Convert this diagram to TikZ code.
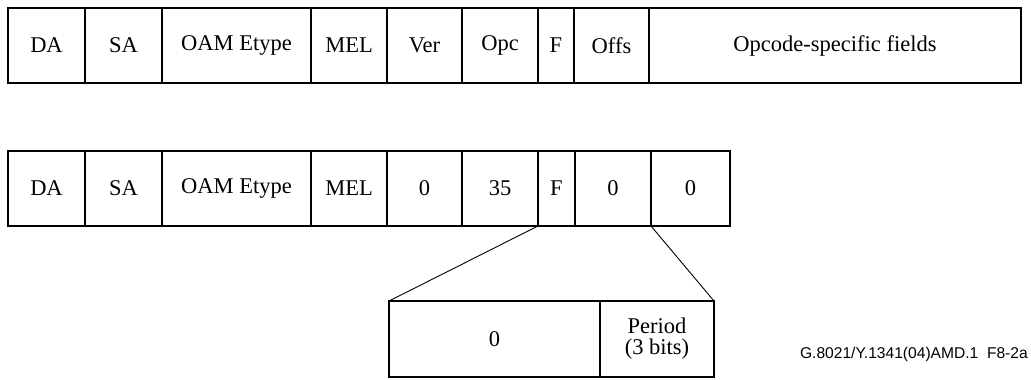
\documentclass[tikz,border=0pt]{standalone}
\usepackage{fontspec}
\setmainfont{Liberation Serif}
\newfontfamily\capfont{Liberation Sans}
\begin{document}
\begin{tikzpicture}[x=1pt,y=-1pt,
  field/.style={draw=black, line width=1.6pt, inner sep=0pt, outer sep=0pt,
    font=\fontsize{22.5}{21}\selectfont, align=center},
  zoomline/.style={draw=black, line width=0.9pt}]
\useasboundingbox (0,0) rectangle (1031,380);
% top row: edges 8,85,162,311,387,462,538,574,649,1021 ; y 8..83
\foreach \a/\b/\t/\n in {8/85/DA/tDA, 85/162/SA/tSA, 162/311/OAM Etype/tOAM, 311/387/MEL/tMEL,
  387/462/Ver/tVer, 462/538/Opc/tOpc, 538/574/F/tF, 574/649/Offs/tOffs,
  649/1021/Opcode-specific fields/tOps}
  \node[field, minimum width={\b-\a}, minimum height=75] (\n) at ({(\a+\b)/2},45.5) {\t};
% bottom row: y 151..226
\foreach \a/\b/\t/\n in {8/85/DA/bDA, 85/162/SA/bSA, 162/311/OAM Etype/bOAM, 311/387/MEL/bMEL,
  387/462/0/bVer, 462/538/35/bOpc, 538/575/F/bF, 575/651/0/bOffs, 651/730/0/bLast}
  \node[field, minimum width={\b-\a}, minimum height=75] (\n) at ({(\a+\b)/2},188.5) {\t};
% expanded flags
\node[field, minimum width=211, minimum height=76] (zero) at (494.5,339) {0};
\node[field, minimum width=114, minimum height=76] (period) at (657,339) {Period\\(3 bits)};
\draw[zoomline] (bF.south west) -- (zero.north west);
\draw[zoomline] (bOffs.south east) -- (period.north east);
\node[anchor=base east, inner sep=0pt, font=\capfont\fontsize{15.6}{18}\selectfont] (cap) at (1028,358) {G.8021/Y.1341(04)AMD.1\ \ F8-2a};
\end{tikzpicture}
\end{document}
